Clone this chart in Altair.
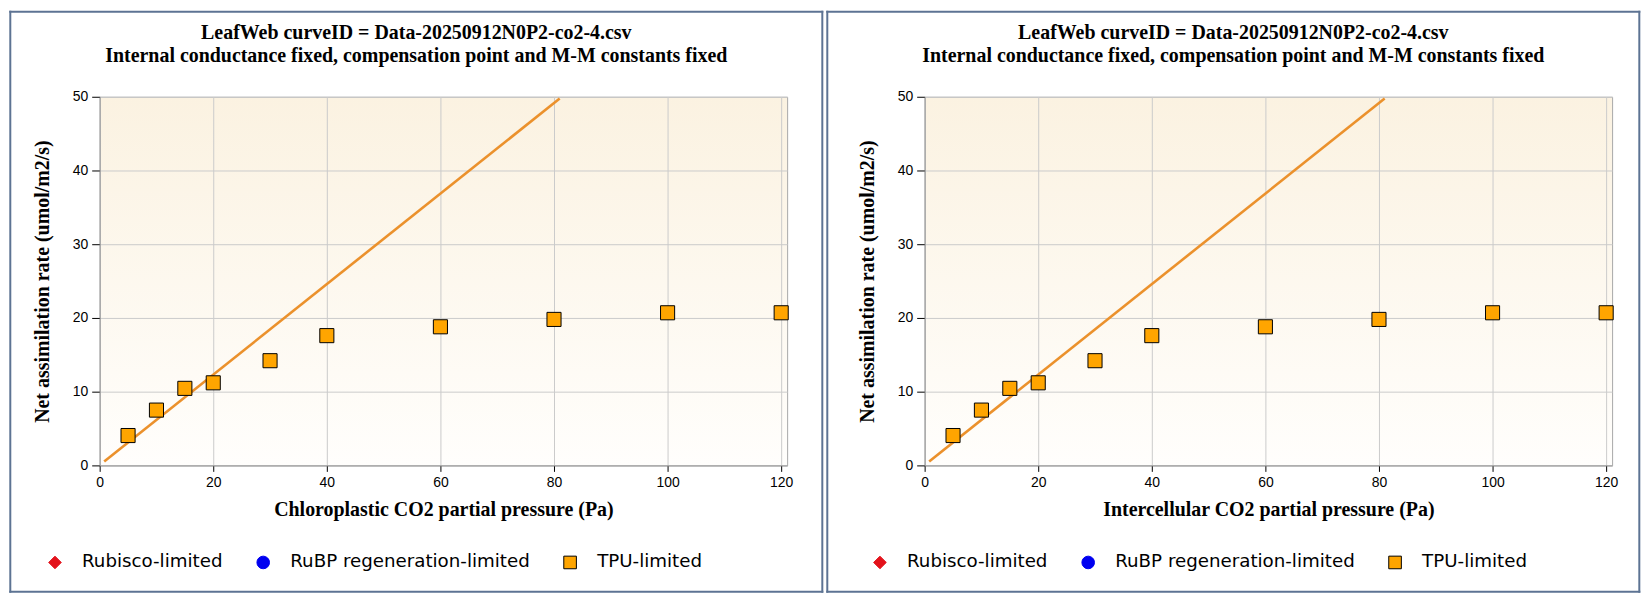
import altair as alt
import pandas as pd

# ---- data ----
x_vals = [5, 10, 15, 20, 30, 40, 60, 80, 100, 120]
a_vals = [4.05, 7.5, 10.45, 11.2, 14.2, 17.6, 18.8, 19.8, 20.7, 20.7]
point_cat = "TPU-limited"
line_x = [0.8, 81.0]
line_y = [0.53, 49.75]
categories = ["Rubisco-limited", "RuBP regeneration-limited", "TPU-limited"]
cat_shapes = ["diamond", "circle", "square"]
cat_fills = ["#e3121b", "#0000f0", "#ffa500"]
cat_strokes = ["#e3121b", "#0000f0", "#000000"]
x_ticks = [0, 20, 40, 60, 80, 100, 120]
y_ticks = [0, 10, 20, 30, 40, 50]
title_lines = [
    "LeafWeb curveID = Data-20250912N0P2-co2-4.csv",
    "Internal conductance fixed, compensation point and M-M constants fixed",
]
x_titles = [
    "Chloroplastic CO2 partial pressure (Pa)",
    "Intercellular CO2 partial pressure (Pa)",
]
y_title = "Net assimilation rate (umol/m2/s)"

points_df = pd.DataFrame({"x": x_vals, "a": a_vals, "cat": [point_cat] * len(x_vals)})
line_df = pd.DataFrame({"x": line_x, "a": line_y})
one_row = pd.DataFrame({"k": [0]})

W, H = 690, 370
SLATE = "#5d7393"
SERIF = "Liberation Serif"
SANS = "Liberation Sans"

xscale = alt.Scale(domain=[0, 121.05], nice=False, zero=False)
yscale = alt.Scale(domain=[0, 50], nice=False)


def make_axis_x(title):
    return alt.Axis(
        values=x_ticks, title=title, grid=True, gridColor="#cbcbcb",
        domainColor="#9c9c9c", tickColor="black", tickSize=6,
        labelFont=SANS, labelFontSize=14, labelColor="black", labelPadding=4,
        labelFlush=False, titleFont=SERIF, titleFontSize=20, titleFontWeight="bold",
        titleColor="black", titleX=W / 2, titleY=44, titleBaseline="middle",
        titleAlign="center",
    )


yaxis = alt.Axis(
    values=y_ticks, title=y_title, grid=True, gridColor="#cbcbcb",
    domainColor="#9c9c9c", tickColor="black", tickSize=8,
    labelFont=SANS, labelFontSize=14, labelColor="black", labelPadding=4,
    titleFont=SERIF, titleFontSize=20, titleFontWeight="bold", titleColor="black",
    titleX=-57, titleY=H / 2, titleAngle=-90, titleAlign="center", titleBaseline="middle",
)

leg = alt.Legend(
    title=None, orient="none", legendX=-54, legendY=458, direction="horizontal",
    symbolSize=160, symbolStrokeWidth=1, labelFont="DejaVu Sans", labelFontSize=18.3,
    labelColor="black", labelOffset=18, columnPadding=31, padding=0, labelLimit=0,
)


def panel(xtitle, fl, fr):
    xaxis = make_axis_x(xtitle)
    line = alt.Chart(line_df).mark_line(color="#eb912c", strokeWidth=2.6).encode(
        x=alt.X("x:Q", scale=xscale, axis=xaxis),
        y=alt.Y("a:Q", scale=yscale, axis=yaxis),
    )
    pts = alt.Chart(points_df).mark_point(filled=True, size=200, strokeWidth=1, opacity=1).encode(
        x=alt.X("x:Q", scale=xscale, axis=xaxis),
        y=alt.Y("a:Q", scale=yscale, axis=yaxis),
        shape=alt.Shape("cat:N", scale=alt.Scale(domain=categories, range=cat_shapes), legend=leg),
        color=alt.Color("cat:N", scale=alt.Scale(domain=categories, range=cat_fills), legend=leg),
        stroke=alt.Stroke("cat:N", scale=alt.Scale(domain=categories, range=cat_strokes), legend=leg),
    )
    top, bot = -85.3, 496.7
    frame = [
        alt.Chart(one_row).mark_rule(color=SLATE, strokeWidth=2, strokeCap="square").encode(
            x=alt.value(fl), y=alt.value(top), y2=alt.value(bot)),
        alt.Chart(one_row).mark_rule(color=SLATE, strokeWidth=2, strokeCap="square").encode(
            x=alt.value(fr), y=alt.value(top), y2=alt.value(bot)),
        alt.Chart(one_row).mark_rule(color=SLATE, strokeWidth=2, strokeCap="square").encode(
            y=alt.value(top), x=alt.value(fl), x2=alt.value(fr)),
        alt.Chart(one_row).mark_rule(color=SLATE, strokeWidth=2, strokeCap="square").encode(
            y=alt.value(bot), x=alt.value(fl), x2=alt.value(fr)),
    ]
    return alt.layer(line, pts, *frame).properties(
        width=W, height=H,
        title=alt.TitleParams(
            text=title_lines, font=SERIF, fontSize=20, fontWeight="bold", color="black",
            anchor="middle", frame="bounds", offset=-56, lineHeight=23,
        ),
    )


left = panel(x_titles[0], -89.7, 725.3)
right = panel(x_titles[1], -97.7, 717.3)

grad = ("{gradient: 'linear', x1: 0, y1: 0, x2: 0, y2: 1, "
        "stops: [{offset: 0, color: '#fbf2e1'}, {offset: 1, color: '#fffefc'}]}")

chart = (
    alt.hconcat(left, right, spacing=0, bounds="full")
    .properties(padding=0, background="white")
    .resolve_scale(color="independent", shape="independent", stroke="independent")
    .configure_view(stroke="#a8a8a8", fill={"expr": grad})
)

chart.save("out.html", embed_options={"renderer": "svg", "actions": False})
